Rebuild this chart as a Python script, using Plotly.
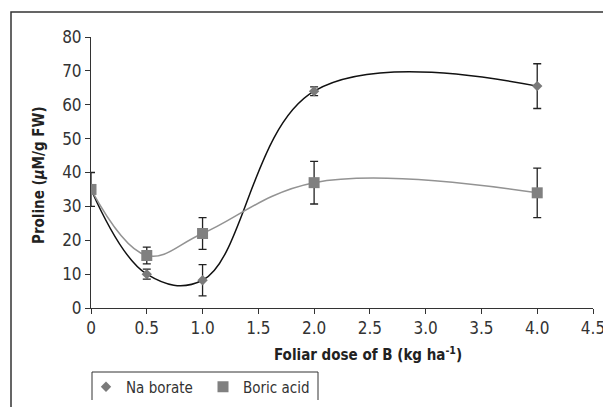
import plotly.graph_objects as go

dose = [0, 0.5, 1.0, 2.0, 4.0]
na_borate = [35, 10, 8.2, 64, 65.5]
na_borate_err = [1.0, 1.5, 4.6, 1.3, 6.6]
boric_acid = [35, 15.5, 22, 37, 34]
boric_acid_err = [5, 2.5, 4.7, 6.3, 7.3]

x_ticks = [0, 0.5, 1.0, 1.5, 2.0, 2.5, 3.0, 3.5, 4.0, 4.5]
x_ticktext = ["0", "0.5", "1.0", "1.5", "2.0", "2.5", "3.0", "3.5", "4.0", "4.5"]
y_ticks = [0, 10, 20, 30, 40, 50, 60, 70, 80]

FONT = "DejaVu Sans Condensed, sans-serif"

fig = go.Figure()
# smoothed lines (no legend)
fig.add_trace(go.Scatter(
    x=dose, y=na_borate, mode="lines", showlegend=False, hoverinfo="skip",
    line=dict(color="#111111", width=1.5, shape="spline", smoothing=1.1),
))
fig.add_trace(go.Scatter(
    x=dose, y=boric_acid, mode="lines", showlegend=False, hoverinfo="skip",
    line=dict(color="#939393", width=1.5, shape="spline", smoothing=1.1),
))
# markers with error bars (legend entries)
fig.add_trace(go.Scatter(
    x=dose, y=na_borate, name="Na borate", mode="markers",
    marker=dict(symbol="diamond", size=8, color="#7a7a7a"),
    error_y=dict(type="data", array=na_borate_err, color="#222222", thickness=1.3, width=4),
))
fig.add_trace(go.Scatter(
    x=dose, y=boric_acid, name="Boric acid", mode="markers",
    marker=dict(symbol="square", size=11, color="#808080"),
    error_y=dict(type="data", array=boric_acid_err, color="#222222", thickness=1.3, width=4),
))

W, H = 603, 407
L, R, T, B = 91, 10, 37, 99

fig.update_layout(
    width=W, height=H,
    margin=dict(l=L, r=R, t=T, b=B, autoexpand=False),
    paper_bgcolor="white", plot_bgcolor="white",
    font=dict(family=FONT, color="#333333", size=16),
    showlegend=True,
    legend=dict(
        orientation="h", x=(86 - L) / (W - L - R), y=-(387 - (H - B)) / (H - T - B),
        xanchor="left", yanchor="middle", xref="paper", yref="paper",
        font=dict(family=FONT, size=15, color="#333333"),
        bgcolor="rgba(0,0,0,0)", borderwidth=0,
        itemwidth=30, entrywidth=72, traceorder="normal",
    ),
    xaxis=dict(
        range=[0, 4.5], tickvals=x_ticks, ticktext=x_ticktext,
        showgrid=False, zeroline=False, showline=True, linecolor="#333333", linewidth=1,
        ticks="outside", ticklen=5, tickcolor="#333333", ticklabeloverflow="allow",
        tickfont=dict(family=FONT, size=17, color="#333333"),
    ),
    yaxis=dict(
        range=[0, 80], tickvals=y_ticks,
        showgrid=False, zeroline=False, showline=True, linecolor="#333333", linewidth=1,
        ticks="outside", ticklen=5, tickcolor="#333333", ticklabeloverflow="allow",
        tickfont=dict(family=FONT, size=17, color="#333333"),
    ),
)

def px_x(px):
    return (px - L) / (W - L - R)

def px_y(py):
    return (H - B - py) / (H - T - B)

# Outer frame
fig.add_shape(type="rect", xref="paper", yref="paper",
              x0=px_x(11), x1=px_x(620), y0=px_y(425), y1=px_y(12),
              line=dict(color="#333333", width=1.5), layer="below")
# Legend box (open bottom, cropped)
fig.add_shape(type="path", xref="paper", yref="paper",
              path=f"M {px_x(92)} {px_y(400)} L {px_x(92)} {px_y(372)} L {px_x(318)} {px_y(372)} L {px_x(318)} {px_y(400)}",
              line=dict(color="#333333", width=1))

fig.add_annotation(text="<b>Foliar dose of B (kg ha<sup>-1</sup>)</b>", xref="paper", yref="paper",
                   x=px_x(368), y=px_y(354), showarrow=False, xanchor="center", yanchor="middle",
                   font=dict(family=FONT, size=15, color="#222222"))
fig.add_annotation(text="<b>Proline (<i>µ</i>M/g FW)</b>", xref="paper", yref="paper",
                   x=px_x(39), y=px_y(175), showarrow=False, xanchor="center", yanchor="middle",
                   textangle=-90, font=dict(family=FONT, size=15, color="#222222"))

fig.write_html("out.html")
